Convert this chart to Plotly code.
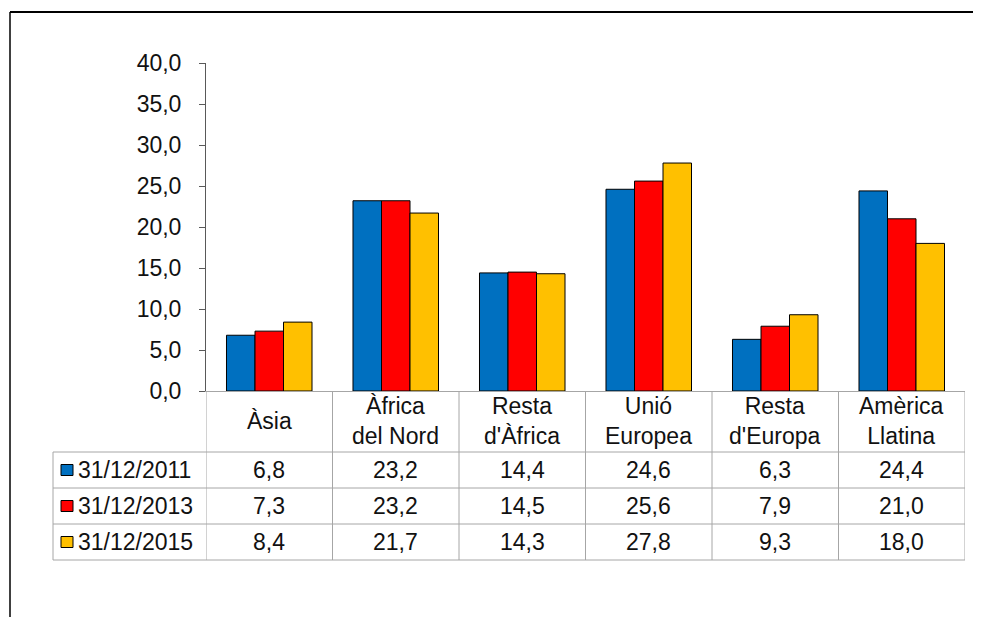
import plotly.graph_objects as go

categories = ["Àsia", "Àfrica<br>del Nord", "Resta<br>d'Àfrica", "Unió<br>Europea", "Resta<br>d'Europa", "Amèrica<br>Llatina"]
series_names = ["31/12/2011", "31/12/2013", "31/12/2015"]
s2011 = [6.8, 23.2, 14.4, 24.6, 6.3, 24.4]
s2013 = [7.3, 23.2, 14.5, 25.6, 7.9, 21.0]
s2015 = [8.4, 21.7, 14.3, 27.8, 9.3, 18.0]
colors = ["#0070C0", "#FF0000", "#FFC000"]
y_ticks = [0, 5, 10, 15, 20, 25, 30, 35, 40]

OFF = 8  # default page body margin
W, H = 981 - OFF, 617 - OFF
L, R, T, B = 206 - OFF, 965 - OFF, 63 - OFF, 391 - OFF
FONT = "Liberation Sans, Arial, sans-serif"
FS = 23
TXT = "#111111"

def xp(px):
    return (px - OFF - L) / (R - L)

def yp(py):
    return (B - (py - OFF)) / (B - T)

fig = go.Figure()
series = [s2011, s2013, s2015]
xidx = list(range(len(categories)))
for name, vals, c in zip(series_names, series, colors):
    fig.add_trace(go.Bar(x=xidx, y=vals, name=name, marker=dict(color=c, line=dict(color="black", width=1))))

shapes = []
annotations = []
grid = "#A6A6A6"
# outer frame
shapes.append(dict(type="line", xref="paper", yref="paper", x0=xp(10), x1=xp(990), y0=yp(12), y1=yp(12), line=dict(color="black", width=2)))
shapes.append(dict(type="line", xref="paper", yref="paper", x0=xp(10), x1=xp(10), y0=yp(12), y1=yp(630), line=dict(color="black", width=1.5)))

row_y = [452, 488, 524, 560]
for ry in row_y:
    shapes.append(dict(type="line", xref="paper", yref="paper", x0=xp(53), x1=1, y0=yp(ry), y1=yp(ry), line=dict(color=grid, width=1)))
n = len(categories)
for i in range(n + 1):
    shapes.append(dict(type="line", xref="x", yref="paper", x0=i - 0.5, x1=i - 0.5, y0=0, y1=yp(560), line=dict(color=grid, width=1)))
shapes.append(dict(type="line", xref="paper", yref="paper", x0=xp(53), x1=xp(53), y0=yp(452), y1=yp(560), line=dict(color=grid, width=1)))

for i, cat in enumerate(categories):
    annotations.append(dict(x=i, y=yp(421), xref="x", yref="paper", text=cat, showarrow=False,
                            xanchor="center", yanchor="middle",
                            font=dict(family=FONT, size=FS, color=TXT), align="center"))
for r, (name, vals, c) in enumerate(zip(series_names, series, colors)):
    cy = (row_y[r] + row_y[r + 1]) / 2
    for i, v in enumerate(vals):
        annotations.append(dict(x=i, y=yp(cy), xref="x", yref="paper", text=f"{v:.1f}".replace(".", ","),
                                showarrow=False, xanchor="center", yanchor="middle",
                                font=dict(family=FONT, size=FS, color=TXT)))
    shapes.append(dict(type="rect", xref="paper", yref="paper", x0=xp(61), x1=xp(73), y0=yp(cy - 5.5), y1=yp(cy + 5.5),
                       fillcolor=c, line=dict(color="black", width=1)))
    annotations.append(dict(x=xp(76), y=yp(cy), xref="paper", yref="paper", text=name, showarrow=False,
                            xanchor="left", yanchor="middle", font=dict(family=FONT, size=FS, color=TXT)))

fig.update_layout(
    width=W, height=H,
    margin=dict(l=L, r=W - R, t=T, b=H - B, pad=0),
    paper_bgcolor="white", plot_bgcolor="white",
    barmode="group", bargap=0.324, bargroupgap=0,
    showlegend=False,
    separators=",.",
    shapes=shapes, annotations=annotations,
    font=dict(family=FONT, size=FS, color=TXT),
)
fig.update_xaxes(range=[-0.5, n - 0.5], showticklabels=False, showgrid=False, zeroline=False,
                 showline=True, linecolor=grid, linewidth=1, ticks="")
fig.update_yaxes(range=[0, 40], tickvals=y_ticks, tickformat=".1f", showgrid=False, zeroline=False,
                 showline=True, linecolor="#595959", linewidth=1, ticks="outside", ticklen=6,
                 tickcolor="#595959", ticklabelstandoff=13,
                 tickfont=dict(family=FONT, size=FS, color=TXT))

fig.write_html("out.html")
